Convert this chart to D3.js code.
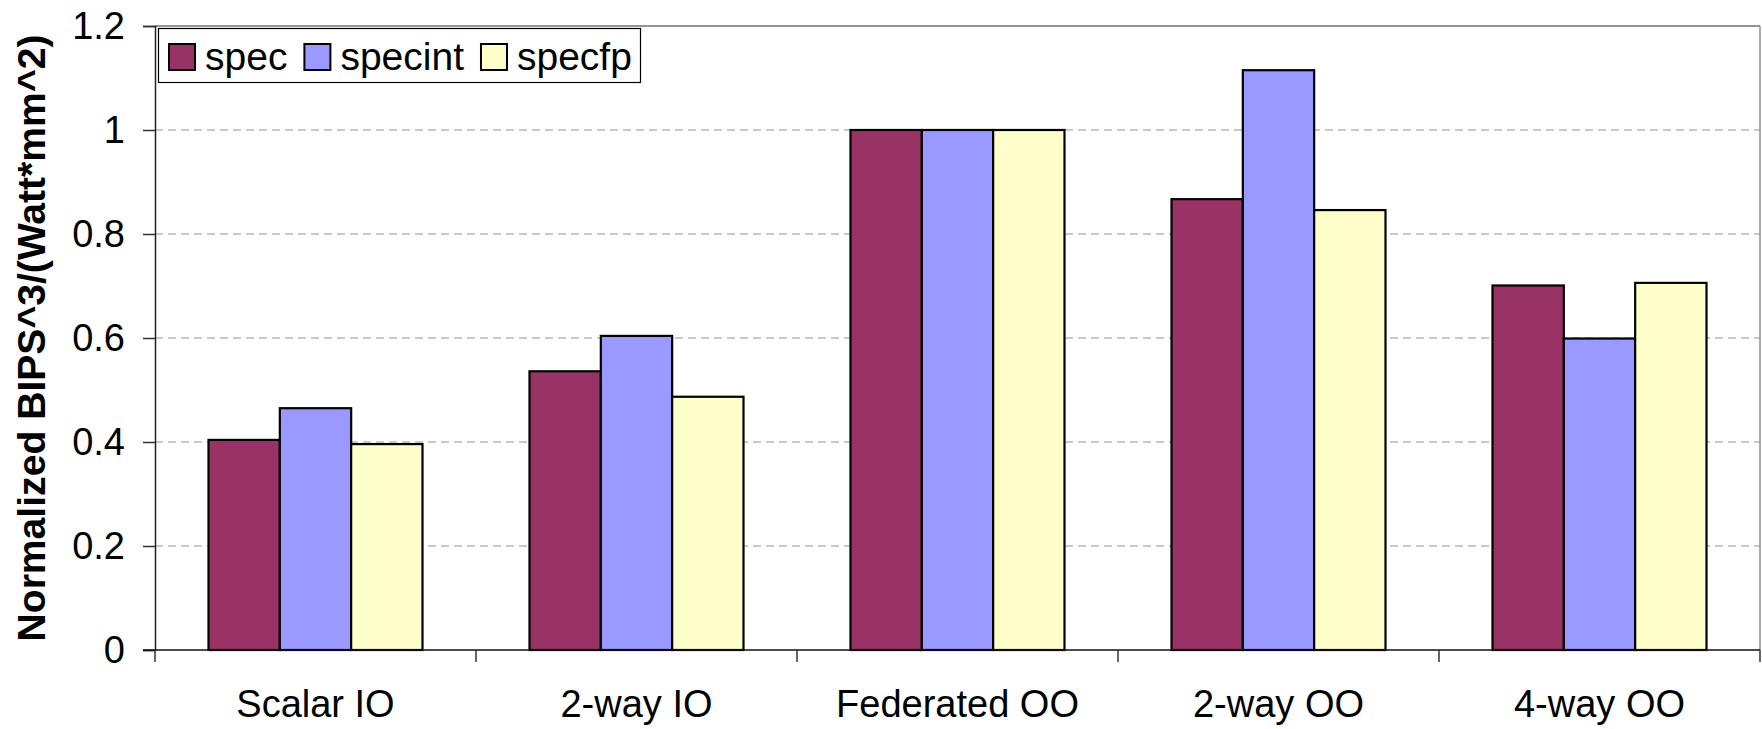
<!DOCTYPE html>
<html>
<head>
<meta charset="utf-8">
<script src="https://cdn.jsdelivr.net/npm/d3@7"></script>
<style>
  html, body { margin: 0; padding: 0; background: #fff; }
  svg { display: block; font-family: "Liberation Sans", Arial, sans-serif; }
</style>
</head>
<body>
<svg id="chart" width="1762" height="729"></svg>
<script>
const categories = ["Scalar IO", "2-way IO", "Federated OO", "2-way OO", "4-way OO"];
const seriesNames = ["spec", "specint", "specfp"];
const specValues    = [0.404, 0.536, 1.0, 0.867, 0.701];
const specintValues = [0.465, 0.604, 1.0, 1.115, 0.599];
const specfpValues  = [0.396, 0.487, 1.0, 0.846, 0.706];
const seriesColors = ["#993366", "#9999FF", "#FFFFCC"];
const yTicks = [0, 0.2, 0.4, 0.6, 0.8, 1, 1.2];
const yTickLabels = ["0", "0.2", "0.4", "0.6", "0.8", "1", "1.2"];
const yTitle = "Normalized BIPS^3/(Watt*mm^2)";

const seriesValues = [specValues, specintValues, specfpValues];

const svg = d3.select("#chart");
const plotLeft = 155, plotRight = 1760, plotTop = 26, plotBottom = 650;

const x0 = d3.scaleBand().domain(categories).range([plotLeft, plotRight]).padding(0);
const bw = x0.bandwidth();
const x1 = d3.scaleBand().domain(seriesNames).range([bw / 6, bw - bw / 6]).padding(0);
const y = d3.scaleLinear().domain([0, 1.2]).range([plotBottom, plotTop]);

// gridlines
svg.append("g").selectAll("line").data(yTicks.filter(d => d > 0 && d < 1.2)).join("line")
  .attr("x1", plotLeft).attr("x2", plotRight)
  .attr("y1", d => y(d)).attr("y2", d => y(d))
  .attr("stroke", "#b8b8b8").attr("stroke-width", 1.5)
  .attr("stroke-dasharray", "8,5");

// plot border top & right
svg.append("line").attr("x1", plotLeft).attr("x2", plotRight).attr("y1", y(1.2)).attr("y2", y(1.2))
  .attr("stroke", "#707070").attr("stroke-width", 1.5);
svg.append("line").attr("x1", plotRight).attr("x2", plotRight).attr("y1", y(1.2)).attr("y2", plotBottom)
  .attr("stroke", "#909090").attr("stroke-width", 1.5);

// bars
const groups = svg.append("g").selectAll("g").data(categories).join("g")
  .attr("transform", d => `translate(${x0(d)},0)`);
groups.selectAll("rect").data((c, i) => seriesNames.map((s, j) => ({ s, j, v: seriesValues[j][i] })))
  .join("rect")
  .attr("x", d => x1(d.s))
  .attr("width", x1.bandwidth())
  .attr("y", d => y(d.v))
  .attr("height", d => y(0) - y(d.v))
  .attr("fill", d => seriesColors[d.j])
  .attr("stroke", "#000").attr("stroke-width", 2.2);

// y axis
const yAxis = d3.axisLeft(y).tickValues(yTicks).tickFormat((d, i) => yTickLabels[i])
  .tickSize(12).tickPadding(18);
const yg = svg.append("g").attr("transform", `translate(${plotLeft},0)`).call(yAxis);
yg.select(".domain").attr("stroke", "#222").attr("stroke-width", 1.5);
yg.selectAll(".tick line").attr("stroke", "#333").attr("stroke-width", 1.5);
yg.selectAll(".tick text").attr("font-size", 38).attr("fill", "#000")
  .attr("font-family", "'Liberation Sans', Arial, sans-serif");

// x axis
svg.append("line").attr("x1", plotLeft - 12).attr("x2", plotRight).attr("y1", plotBottom).attr("y2", plotBottom)
  .attr("stroke", "#111").attr("stroke-width", 1.5);
const boundaries = categories.map(c => x0(c)).concat([plotRight]);
svg.append("g").selectAll("line").data(boundaries).join("line")
  .attr("x1", d => d).attr("x2", d => d).attr("y1", plotBottom).attr("y2", plotBottom + 12)
  .attr("stroke", "#333").attr("stroke-width", 1.5);
svg.append("g").selectAll("text").data(categories).join("text")
  .attr("x", d => x0(d) + bw / 2).attr("y", 717)
  .attr("text-anchor", "middle").attr("font-size", 38).attr("fill", "#000")
  .text(d => d);

// y title
svg.append("text")
  .attr("transform", `translate(45,${(plotTop + plotBottom) / 2}) rotate(-90)`)
  .attr("text-anchor", "middle").attr("font-size", 39).attr("font-weight", "bold")
  .attr("fill", "#000")
  .attr("textLength", 607).attr("lengthAdjust", "spacingAndGlyphs")
  .text(yTitle);

// legend
const lg = svg.append("g");
lg.append("rect").attr("x", 158.5).attr("y", 28.5).attr("width", 482).attr("height", 54)
  .attr("fill", "#fff").attr("stroke", "#000").attr("stroke-width", 1.2);
let lx = 169;
seriesNames.forEach((s, j) => {
  lg.append("rect").attr("x", lx).attr("y", 44).attr("width", 26).attr("height", 26)
    .attr("fill", seriesColors[j]).attr("stroke", "#000").attr("stroke-width", 2);
  const t = lg.append("text").attr("x", lx + 36).attr("y", 70)
    .attr("font-size", 39).attr("fill", "#000").text(s);
  lx = lx + 36 + t.node().getComputedTextLength() + 17;
});
</script>
</body>
</html>
